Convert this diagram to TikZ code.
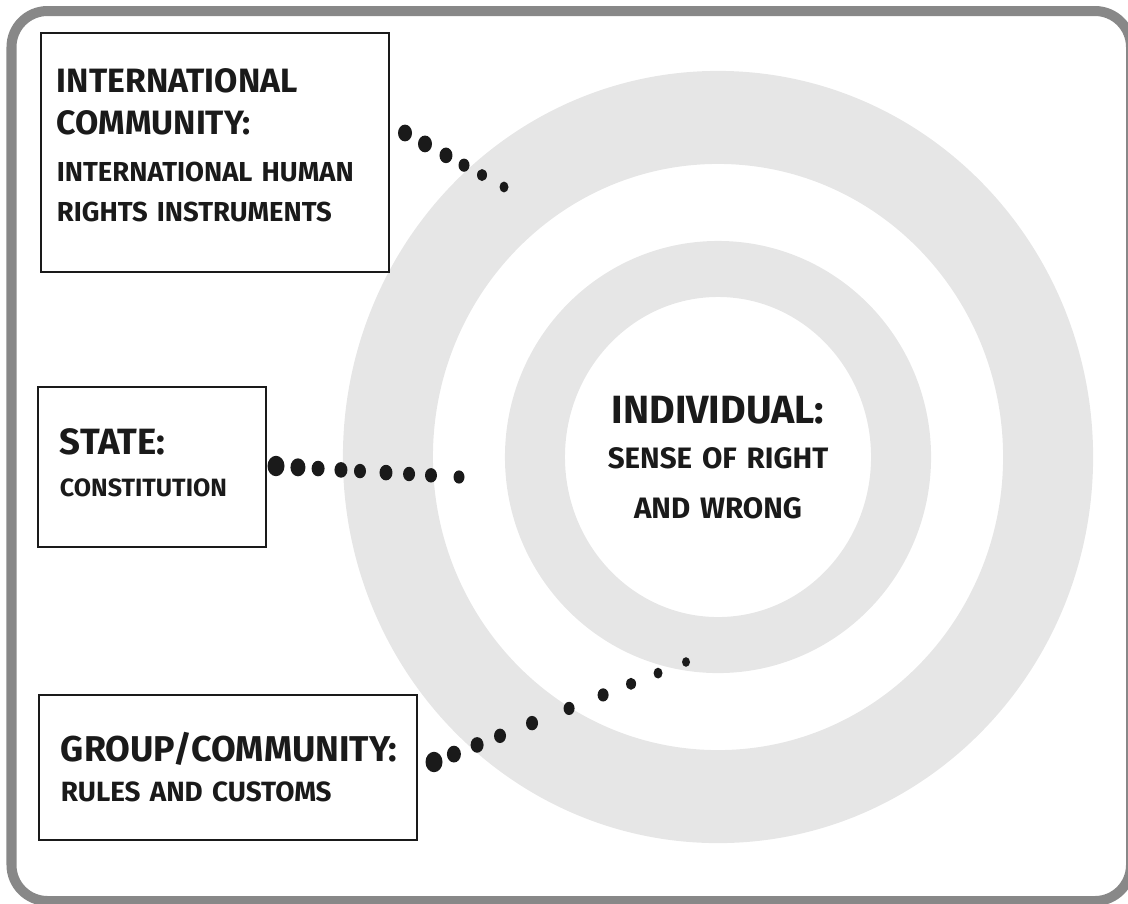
\documentclass[tikz,border=0pt]{standalone}
\usepackage{fontspec}
\setmainfont{Fira Sans}
\usetikzlibrary{calc}

\newcommand\headfont{\fontsize{24}{30}\selectfont\bfseries}
\newcommand\subfont{\fontsize{19.5}{28.5}\selectfont\bfseries}
\newcommand\statefont{\fontsize{26}{30}\selectfont\bfseries}
\newcommand\constfont{\fontsize{17.8}{28.5}\selectfont\bfseries}
\newcommand\groupfont{\fontsize{25.5}{30}\selectfont\bfseries}
\newcommand\rulesfont{\fontsize{19.8}{28.5}\selectfont\bfseries}
\newcommand\centrefont{\fontsize{28}{32}\selectfont\bfseries}
\newcommand\centresub{\fontsize{21}{32}\selectfont\bfseries}

\definecolor{ringgray}{HTML}{E6E6E6}
\definecolor{framegray}{HTML}{888888}
\definecolor{inkblack}{HTML}{1A1A1A}

\begin{document}
\begin{tikzpicture}[
    x=0.025cm, y=-0.025cm,
    frame/.style={draw=framegray, line width=0.25cm, rounded corners=0.9cm},
    ring/.style={fill=ringgray, even odd rule},
    box/.style={rectangle, draw=inkblack, line width=1.6pt, text=inkblack, inner xsep=0.55cm, inner ysep=0pt, align=left},
    dot/.style={fill=inkblack}
]
\useasboundingbox (0,0) rectangle (1128,903);

% Rahmen
\draw[frame] (11.5,11) rectangle (1131,901);

% Ringe
\fill[ring] (718,457) ellipse [x radius=9.375cm, y radius=9.65cm]
            (718,457) ellipse [x radius=7.125cm, y radius=7.325cm];
\fill[ring] (718,457) ellipse [x radius=5.325cm, y radius=5.4cm]
            (718,457) ellipse [x radius=3.825cm, y radius=4cm];

% Kaesten
\node[box, font=\subfont, inner xsep=0.4cm, minimum height=5.975cm, text width=7.9cm] (intl) at (215,152.5)
    {\headfont INTERNATIONAL\\ COMMUNITY:\\[5pt] \subfont INTERNATIONAL HUMAN\\ RIGHTS INSTRUMENTS\par\kern10pt};
\node[box, font=\constfont, minimum height=4cm, text width=4.6cm] (state) at (152,467)
    {\statefont STATE:\\[1.5pt] \constfont CONSTITUTION\par\kern6pt};
\node[box, font=\rulesfont, minimum height=3.625cm, text width=8.35cm] (group) at (228,767.5)
    {\groupfont GROUP/COMMUNITY:\\ \rulesfont RULES AND CUSTOMS};

% Mitte
\node[text=inkblack, font=\centresub, align=center, text width=8cm, inner sep=0pt] (indiv) at (718,458)
    {\centrefont INDIVIDUAL:\\[0pt] \centresub SENSE OF RIGHT\\[3.6pt] AND WRONG};

% Punkte
\coordinate (intlA) at (405,133);
\coordinate (intlB) at (504,187);
\coordinate (stateA) at (276,466);
\coordinate (stateB) at (459,477);
\coordinate (groupA) at (434,762);
\coordinate (groupB) at (686,662);

\foreach \pos/\size in {0/7, 0.202/7, 0.414/6.5, 0.596/5.5, 0.778/5, 1/4.5}
  \fill[dot] ($(intlA)!\pos!(intlB)$) ellipse [x radius={0.025cm*\size}, y radius={0.03cm*\size}];
\foreach \pos/\size in {0/8.5, 0.12/7.5, 0.23/6.5, 0.355/6.5, 0.459/6, 0.601/6.5, 0.727/6, 0.847/6, 1/5.5}
  \fill[dot] ($(stateA)!\pos!(stateB)$) ellipse [x radius={0.025cm*\size}, y radius={0.03cm*\size}];
\foreach \pos/\size in {0/8.5, 0.079/7, 0.171/6.5, 0.262/6, 0.389/6, 0.536/5.5, 0.671/5.5, 0.782/5, 0.889/4.5, 1/4}
  \fill[dot] ($(groupA)!\pos!(groupB)$) ellipse [x radius={0.025cm*\size}, y radius={0.03cm*\size}];
\end{tikzpicture}
\end{document}
